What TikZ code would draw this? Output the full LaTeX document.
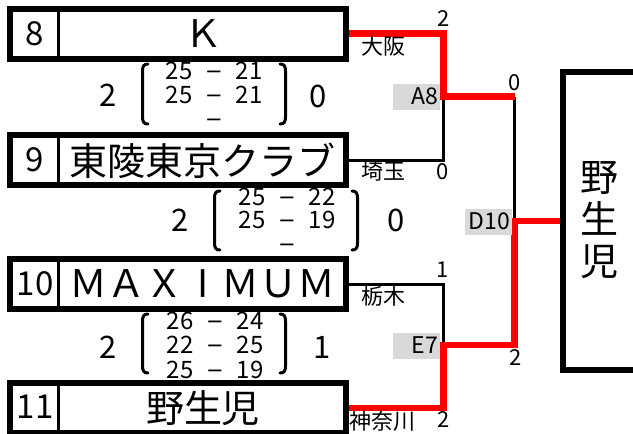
\documentclass[tikz,border=0pt]{standalone}
\usepackage{fontspec}
\setmainfont{Noto Sans CJK JP}
\newfontfamily\dashfont{DejaVu Sans}
\usepackage{tikz}
\pgfdeclarelayer{edgelayer}
\pgfdeclarelayer{nodelayer}
\pgfsetlayers{edgelayer,nodelayer,main}
\tikzstyle{none} = [inner sep=0pt]
\tikzstyle{team box} = [draw, line width=6pt, fill=white, minimum width=336pt, minimum height=50pt, inner sep=0pt]
\tikzstyle{final box} = [draw, line width=6pt, fill=white, minimum width=80pt, minimum height=298pt, inner sep=0pt]
\tikzstyle{seed} = [inner sep=0pt, font=\fontsize{33}{33}\selectfont]
\tikzstyle{team} = [inner sep=0pt, font=\fontsize{38}{38}\selectfont]
\tikzstyle{champ} = [inner sep=0pt, align=center, font=\fontsize{38}{42}\selectfont]
\tikzstyle{pref} = [inner sep=0pt, font=\fontsize{22}{22}\selectfont]
\tikzstyle{score} = [inner sep=0pt, font=\fontsize{24}{24}\selectfont]
\tikzstyle{set dash} = [inner sep=0pt, font=\fontsize{21}{21}\dashfont]
\tikzstyle{won} = [inner sep=0pt, font=\fontsize{31}{31}\selectfont]
\tikzstyle{game} = [fill=gray!30, anchor=east, minimum height=26pt, text width=44pt, align=right, inner xsep=1.5pt, inner ysep=0pt, font=\fontsize{23}{23}\selectfont]
\tikzstyle{win} = [draw=red, line width=6.5pt]
\tikzstyle{lose} = [draw=black, line width=3pt]
\tikzstyle{divider} = [line width=2.5pt]
\tikzstyle{paren} = [line width=3pt, line cap=round]

\begin{document}
\begin{tikzpicture}[x=1pt, y=-1pt]
	\useasboundingbox (0, 0) rectangle (633, 434);
	\begin{pgfonlayer}{nodelayer}
		\node [style=team box] (0) at (178, 33.5) {};
		\node [style=team box] (1) at (178, 160) {};
		\node [style=team box] (2) at (178, 284) {};
		\node [style=team box] (3) at (178, 408) {};
		\node [style=final box] (4) at (603, 221) {};
		\draw [style=divider] ([xshift=51.5pt]0.north west) -- ([xshift=51.5pt]0.south west);
		\draw [style=divider] ([xshift=51.5pt]1.north west) -- ([xshift=51.5pt]1.south west);
		\draw [style=divider] ([xshift=51.5pt]2.north west) -- ([xshift=51.5pt]2.south west);
		\draw [style=divider] ([xshift=51.5pt]3.north west) -- ([xshift=51.5pt]3.south west);
		\node [style=seed] (5) at (35, 34) {8};
		\node [style=team] (6) at (203, 34) {Ｋ};
		\node [style=seed] (7) at (35, 160) {9};
		\node [style=team] (8) at (203, 161) {東陵東京クラブ};
		\node [style=seed] (9) at (35, 284) {10};
		\node [style=team] (10) at (203, 284) {ＭＡＸ\makebox[1em]{I}ＭＵＭ};
		\node [style=seed] (11) at (35, 407) {11};
		\node [style=team] (12) at (203, 408) {野生児};
		\node [style=champ] (13) at (599, 220) {野\\生\\児};
		\node [style=none] (20) at (443.5, 96.5) {};
		\node [style=none] (21) at (443.5, 160) {};
		\node [style=none] (22) at (443.5, 33.5) {};
		\node [style=none] (23) at (514.5, 96.5) {};
		\node [style=none] (24) at (514.5, 221) {};
		\node [style=none] (25) at (443.5, 284) {};
		\node [style=none] (26) at (443.5, 345) {};
		\node [style=none] (27) at (443.5, 408) {};
		\node [style=none] (28) at (514.5, 345) {};
		\node [style=pref] (30) at (383, 46) {大阪};
		\node [style=pref] (31) at (444, 19) {2};
		\node [style=game] (32) at (440, 96.5) {A8};
		\node [style=pref] (33) at (515, 83) {0};
		\node [style=pref] (34) at (383, 171) {埼玉};
		\node [style=pref] (35) at (443, 172) {0};
		\node [style=game] (36) at (512, 221.5) {D10};
		\node [style=pref] (37) at (443, 270) {1};
		\node [style=pref] (38) at (383, 296) {栃木};
		\node [style=game] (39) at (440, 345.5) {E7};
		\node [style=pref] (40) at (516, 358) {2};
		\node [style=pref] (41) at (382, 421) {神奈川};
		\node [style=pref] (42) at (444, 420) {2};
		\node [style=won] (50) at (108, 95) {2};
		\node [style=won] (51) at (318, 96) {0};
		\node [style=score] (52) at (179, 71) {25};
		\node [style=set dash] (53) at (214, 71) {\vphantom{2}−};
		\node [style=score] (54) at (249, 71) {21};
		\node [style=score] (55) at (179, 95) {25};
		\node [style=set dash] (56) at (214, 95) {\vphantom{2}−};
		\node [style=score] (57) at (249, 95) {21};
		\node [style=set dash] (58) at (214, 119) {\vphantom{2}−};
		\node [style=won] (60) at (180, 220) {2};
		\node [style=won] (61) at (396, 220) {0};
		\node [style=score] (62) at (252, 197) {25};
		\node [style=set dash] (63) at (287, 197) {\vphantom{2}−};
		\node [style=score] (64) at (322, 197) {22};
		\node [style=score] (65) at (252, 220) {25};
		\node [style=set dash] (66) at (287, 220) {\vphantom{2}−};
		\node [style=score] (67) at (322, 220) {19};
		\node [style=set dash] (68) at (287, 244) {\vphantom{2}−};
		\node [style=won] (70) at (108, 347) {2};
		\node [style=won] (71) at (322, 347) {1};
		\node [style=score] (72) at (180, 321) {26};
		\node [style=set dash] (73) at (215, 321) {\vphantom{2}−};
		\node [style=score] (74) at (250, 321) {24};
		\node [style=score] (75) at (180, 345) {22};
		\node [style=set dash] (76) at (215, 345) {\vphantom{2}−};
		\node [style=score] (77) at (250, 345) {25};
		\node [style=score] (78) at (180, 370) {25};
		\node [style=set dash] (79) at (215, 370) {\vphantom{2}−};
		\node [style=score] (80) at (250, 370) {19};
		% set brackets
		\draw [style=paren] (148, 64) .. controls (144, 64) and (142.5, 66) .. (142.5, 71) -- (142.5, 117) .. controls (142.5, 122) and (144, 124) .. (148, 124);
		\draw [style=paren] (280, 64) .. controls (284, 64) and (285.5, 66) .. (285.5, 71) -- (285.5, 117) .. controls (285.5, 122) and (284, 124) .. (280, 124);
		\draw [style=paren] (220, 191) .. controls (216, 191) and (214.5, 193) .. (214.5, 198) -- (214.5, 243) .. controls (214.5, 248) and (216, 250) .. (220, 250);
		\draw [style=paren] (352, 191) .. controls (356, 191) and (357.5, 193) .. (357.5, 198) -- (357.5, 243) .. controls (357.5, 248) and (356, 250) .. (352, 250);
		\draw [style=paren] (148, 314) .. controls (144, 314) and (142.5, 316) .. (142.5, 321) -- (142.5, 366) .. controls (142.5, 371) and (144, 373) .. (148, 373);
		\draw [style=paren] (280, 314) .. controls (284, 314) and (285.5, 316) .. (285.5, 321) -- (285.5, 366) .. controls (285.5, 371) and (284, 373) .. (280, 373);
	\end{pgfonlayer}
	\begin{pgfonlayer}{edgelayer}
		\draw [style=lose] (1.east) to (21.center) to (20.center);
		\draw [style=lose] (23.center) to (24.center);
		\draw [style=lose] (2.east) to (25.center) to (26.center);
		\draw [style=win] (0.east) to (22.center) to (20.center) to (23.center);
		\draw [style=win] (3.east) to (27.center) to (26.center) to (28.center) to (24.center) to (4.west);
	\end{pgfonlayer}
\end{tikzpicture}
\end{document}
